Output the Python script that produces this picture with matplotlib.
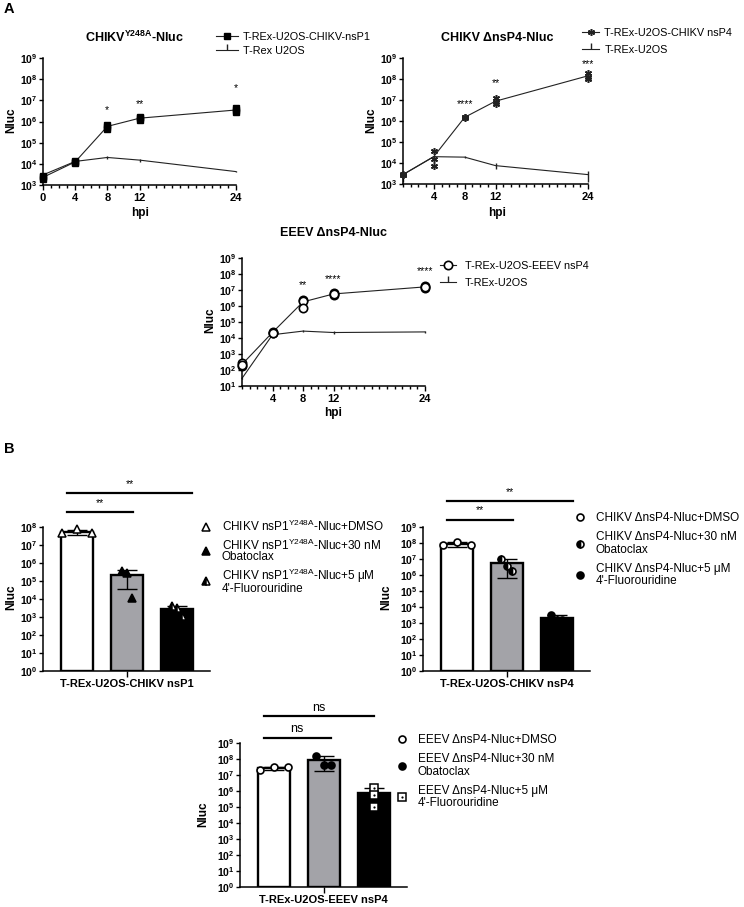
import numpy as np
import matplotlib.pyplot as plt
from matplotlib.lines import Line2D
from matplotlib.ticker import FuncFormatter, FixedLocator, MultipleLocator, NullLocator

plt.rcParams['font.family'] = ['Liberation Sans', 'DejaVu Sans']
plt.rcParams['mathtext.fontset'] = 'custom'
plt.rcParams['mathtext.rm'] = 'Liberation Sans'
plt.rcParams['mathtext.bf'] = 'Liberation Sans:bold'
plt.rcParams['mathtext.it'] = 'Liberation Sans:italic'
plt.rcParams['axes.linewidth'] = 1.1

W, H = 744, 907

# ---------------- panel A: time courses (Nluc vs hpi) ----------------
hpi = [0, 4, 8, 12, 24]

# CHIKV Y248A-Nluc, replicates per timepoint
y248a_nsp1 = [[2.0e3, 2.6e3, 2.3e3], [1.1e4, 1.4e4, 1.2e4], [4.6e5, 7.2e5, 5.8e5],
              [1.2e6, 1.7e6, 1.4e6], [2.7e6, 4.3e6, 3.5e6]]
y248a_ctrl = [3.0e3, 1.3e4, 2.0e4, 1.5e4, 4.3e3]
y248a_ctrl_sd = [3e2, 1.5e3, 3e3, 2.5e3, 3e2]
y248a_stars = ['', '', '*', '**', '*']
y248a_star_y = [1, 1, 3.5e6, 7e6, 3.9e7]

# CHIKV dnsP4-Nluc
cnsp4 = [[2.6e3, 3.0e3, 2.8e3], [3.8e4, 1.6e4, 7.0e3], [1.5e6, 1.6e6, 1.4e6],
         [1.2e7, 8.0e6, 6.3e6], [1.9e8, 1.3e8, 1.05e8]]
cnsp4_ctrl = [2.8e3, 2.0e4, 1.9e4, 7.5e3, 2.8e3]
cnsp4_ctrl_sd = [1.5e3, 1.5e3, 2.5e3, 2.5e3, 1.5e3]
cnsp4_stars = ['', '', '****', '**', '***']
cnsp4_star_y = [1, 1, 6.3e6, 6.3e7, 5.4e8]

# EEEV dnsP4-Nluc
ensp4 = [[2.8e2, 1.7e2, 2.2e2], [2.5e4, 2.0e4, 2.2e4], [2.5e6, 2.1e6, 8.0e5],
         [6.5e6, 5.0e6, 5.5e6], [1.8e7, 1.4e7, 1.5e7]]
ensp4_ctrl = [30, 1.6e4, 2.7e4, 2.2e4, 2.4e4]
ensp4_ctrl_sd = [3, 2.5e3, 4e3, 3.5e3, 3.5e3]
ensp4_stars = ['', '', '**', '****', '****']
ensp4_star_y = [1, 1, 2.0e7, 5.0e7, 1.6e8]

# ---------------- panel B: drug treatments (3 replicates each) ----------------
b1_vals = [[4.5e7, 7.5e7, 4.5e7], [3.5e5, 2.7e5, 1.2e4], [4.0e3, 3.3e3, 1.2e3]]
b2_vals = [[7.0e7, 1.2e8, 7.0e7], [1.07e7, 3.5e6, 1.8e6], [3.3e3, 1.6e3, 1.5e3]]
b3_vals = [[2.0e7, 3.1e7, 3.0e7], [1.56e8, 4.5e7, 4.5e7], [1.5e6, 6.0e5, 1.0e5]]

b1_labels = ['CHIKV nsP1$^{\\mathrm{Y248A}}$-Nluc+DMSO',
             'CHIKV nsP1$^{\\mathrm{Y248A}}$-Nluc+30 nM\nObatoclax',
             'CHIKV nsP1$^{\\mathrm{Y248A}}$-Nluc+5 μM\n4\'-Fluorouridine']
b2_labels = ['CHIKV ΔnsP4-Nluc+DMSO', 'CHIKV ΔnsP4-Nluc+30 nM\nObatoclax',
             'CHIKV ΔnsP4-Nluc+5 μM\n4\'-Fluorouridine']
b3_labels = ['EEEV ΔnsP4-Nluc+DMSO', 'EEEV ΔnsP4-Nluc+30 nM\nObatoclax',
             'EEEV ΔnsP4-Nluc+5 μM\n4\'-Fluorouridine']
b1_sig = ['**', '**']
b2_sig = ['**', '**']
b3_sig = ['ns', 'ns']

bar_colors = ['white', '#a3a3a8', 'black']

fig = plt.figure(figsize=(W / 100, H / 100), dpi=100)


def add_axes(l, t, r, b):
    return fig.add_axes([l / W, 1 - b / H, (r - l) / W, (b - t) / H])


def ftext(x, y, s, **kw):
    fig.text(x / W, 1 - y / H, s, ha='center', va='center', **kw)


def log_y(ax, lo, hi):
    ax.set_yscale('log')
    ax.set_ylim(lo, hi)
    ax.yaxis.set_major_locator(FixedLocator([10.0 ** k for k in range(int(np.log10(lo)), int(np.log10(hi)) + 1)]))
    ax.yaxis.set_minor_locator(NullLocator())
    ax.yaxis.set_major_formatter(FuncFormatter(lambda v, p: r'$\mathbf{10^{%d}}$' % round(np.log10(v))))
    for s in ['top', 'right']:
        ax.spines[s].set_visible(False)
    ax.tick_params(axis='y', length=3, width=1, labelsize=7.5, pad=1)


def time_panel(box, reps, ctrl, ctrl_sd, stars, star_y, ylim, xt, mk):
    ax = add_axes(*box)
    log_y(ax, *ylim)
    reps = np.array(reps)
    ax.plot(hpi, reps.mean(axis=1), color='#222222', lw=0.8, zorder=2, clip_on=False)
    for i, t in enumerate(hpi):
        ax.plot([t] * 3, reps[i], ls='none', clip_on=False, zorder=3, **mk)
    eb = ax.errorbar(hpi, ctrl, yerr=ctrl_sd, color='#222222', lw=0.8, elinewidth=1, capsize=0)
    for art in eb.get_children():
        art.set_clip_on(False)
    for t, s, y in zip(hpi, stars, star_y):
        if s:
            ax.text(t, y, s, ha='center', va='center', fontsize=7.5)
    ax.set_xlim(0, 24)
    ax.set_xticks(xt)
    ax.xaxis.set_minor_locator(MultipleLocator(1))
    ax.tick_params(axis='x', which='major', length=3.5, width=1, labelsize=8, pad=2)
    ax.tick_params(axis='x', which='minor', length=2, width=1)
    for lab in ax.get_xticklabels():
        lab.set_fontweight('bold')
    main_h = Line2D([], [], color='#222222', lw=0.8, **mk)
    ctrl_h = Line2D([], [], color='#222222', lw=0.8, marker=2, ms=4, mew=1)
    return ax, main_h, ctrl_h


def bar_panel(box, groups, ylim, mks, jit, xlabel, sig, sig_geo):
    ax = add_axes(*box)
    log_y(ax, *ylim)
    ax.set_xlim(-0.67, 2.67)
    for i, vals in enumerate(groups):
        m = np.mean(vals)
        sd = np.std(vals, ddof=1)
        ax.bar(i, m - ylim[0], bottom=ylim[0], width=0.64, color=bar_colors[i],
               edgecolor='k', lw=1.7, zorder=1)
        ax.errorbar(i, m, yerr=[[min(sd, m * 0.99)], [sd]], color='k', capsize=7,
                    elinewidth=1, capthick=1, zorder=2)
        for mk in mks[i]:
            ax.plot(np.array(jit[i]) + i, vals, ls='none', zorder=3, clip_on=False, **mk)
    ax.set_xticks([1])
    ax.set_xticklabels([xlabel], fontsize=8, fontweight='bold')
    ax.tick_params(axis='x', length=4, width=1, pad=2)
    tr = ax.get_xaxis_transform()
    for s, (x0, x1, yl, yt) in zip(sig, sig_geo):
        ax.plot([x0, x1], [yl, yl], color='k', lw=1.6, transform=tr, clip_on=False)
        ax.text((x0 + x1) / 2, yt, s, transform=tr, ha='center', va='center',
                fontsize=7.5 if s.startswith('*') else 9)
    return ax


# ---------- A ----------
mk1 = dict(marker='s', ms=5, mfc='k', mec='k')
mk2 = dict(marker=(6, 2, 0), ms=5, mec='#222222', mew=1.1)
mk3 = dict(marker='o', ms=6, mfc='white', mec='k', mew=1.2)

ax1, h1, e1 = time_panel((43, 58, 236, 185), y248a_nsp1, y248a_ctrl, y248a_ctrl_sd,
                         y248a_stars, y248a_star_y, (1e3, 1e9), [0, 4, 8, 12, 24], mk1)
ax2, h2, e2 = time_panel((403, 58, 588, 184), cnsp4, cnsp4_ctrl, cnsp4_ctrl_sd,
                         cnsp4_stars, cnsp4_star_y, (1e3, 1e9), [4, 8, 12, 24], mk2)
ax3, h3, e3 = time_panel((242, 258, 425, 386), ensp4, ensp4_ctrl, ensp4_ctrl_sd,
                         ensp4_stars, ensp4_star_y, (1e1, 1e9), [4, 8, 12, 24], mk3)

leg_kw = dict(loc='upper left', frameon=False, borderpad=0, borderaxespad=0, fontsize=7.8)
fig.legend([h1, e1], ['T-REx-U2OS-CHIKV-nsP1', 'T-Rex U2OS'], bbox_to_anchor=(216 / W, 1 - 32 / H),
           handlelength=2.0, handletextpad=0.45, labelspacing=0.35, **leg_kw)
fig.legend([h2, e2], ['T-REx-U2OS-CHIKV nsP4', 'T-REx-U2OS'], bbox_to_anchor=(582 / W, 1 - 28 / H),
           handlelength=1.6, handletextpad=0.45, labelspacing=0.65, **leg_kw)
fig.legend([h3, e3], ['T-REx-U2OS-EEEV nsP4', 'T-REx-U2OS'], bbox_to_anchor=(440 / W, 1 - 261 / H),
           handlelength=1.5, handletextpad=0.8, labelspacing=0.65, **leg_kw)

ftext(135, 37, 'CHIKV$^{\\mathbf{Y248A}}$-Nluc', fontsize=9, fontweight='bold')
ftext(497, 38, 'CHIKV ΔnsP4-Nluc', fontsize=9, fontweight='bold')
ftext(333, 233, 'EEEV ΔnsP4-Nluc', fontsize=9, fontweight='bold')
for x, y in [(140, 213), (497, 213), (333, 413)]:
    ftext(x, y, 'hpi', fontsize=8.5, fontweight='bold')
for x, y in [(11, 120), (371, 120), (210, 320), (11, 597), (386, 597), (203, 814)]:
    ftext(x, y, 'Nluc', fontsize=8.5, fontweight='bold', rotation=90)
ftext(9, 9, 'A', fontsize=10.5, fontweight='bold')
ftext(9, 449, 'B', fontsize=10.5, fontweight='bold')

# ---------- B ----------
m_tri_open = dict(marker='^', ms=5.5, mfc='white', mec='k', mew=1.1)
m_tri_fill = dict(marker='^', ms=5.5, mfc='k', mec='k', mew=1.1)
m_tri_half = dict(marker='^', ms=5.5, mfc='k', mfcalt='white', fillstyle='left', mec='k', mew=1.1)
m_c_open = dict(marker='o', ms=5, mfc='white', mec='k', mew=1.2)
m_c_half = dict(marker='o', ms=5, mfc='k', mfcalt='white', fillstyle='left', mec='k', mew=1.2)
m_c_fill = dict(marker='o', ms=5, mfc='k', mec='k', mew=1.2)
m_sq = dict(marker='s', ms=5.5, mfc='white', mec='k', mew=1.1)
m_dot = dict(marker='o', ms=1.6, mfc='k', mec='k', mew=0)

bar_panel((43, 527, 210, 671), b1_vals, (1e0, 1e8),
          [[m_tri_open], [m_tri_fill], [m_tri_half]],
          [[-0.29, 0, 0.3], [-0.1, 0, 0.1], [-0.1, 0, 0.1]],
          'T-REx-U2OS-CHIKV nsP1', b1_sig,
          [(-0.2, 2.32, 1.236, 1.30), (-0.2, 1.12, 1.104, 1.165)])
bar_panel((423, 527, 590, 671), b2_vals, (1e0, 1e9),
          [[m_c_open], [m_c_half], [m_c_fill]],
          [[-0.28, 0, 0.28], [-0.12, 0, 0.1], [-0.12, 0, 0.1]],
          'T-REx-U2OS-CHIKV nsP4', b2_sig,
          [(-0.2, 2.32, 1.18, 1.245), (-0.2, 1.12, 1.049, 1.115)])
bar_panel((240, 743, 407, 887), b3_vals, (1e0, 1e9),
          [[m_c_open], [m_c_fill], [m_sq, m_dot]],
          [[-0.28, 0, 0.28], [-0.16, 0, 0.14], [0, 0, 0]],
          'T-REx-U2OS-EEEV nsP4', b3_sig,
          [(-0.2, 2.0, 1.1875, 1.24), (-0.2, 1.14, 1.035, 1.095)])


def marker_handle(*mks):
    hs = tuple(Line2D([], [], ls='none', **m) for m in mks)
    return hs if len(hs) > 1 else hs[0]


bleg = dict(loc='upper left', frameon=False, borderpad=0, borderaxespad=0, fontsize=8.5,
            handlelength=1.0, handletextpad=0.85)
for hs, labs, (x, y), ls, lsp in [
        ([marker_handle(m_tri_open), marker_handle(m_tri_fill), marker_handle(m_tri_half)],
         b1_labels, (200, 519), 0.3, 0.8),
        ([marker_handle(m_c_open), marker_handle(m_c_half), marker_handle(m_c_fill)],
         b2_labels, (574, 512), 0.6, 1.05),
        ([marker_handle(m_c_open), marker_handle(m_c_fill), marker_handle(m_sq, m_dot)],
         b3_labels, (396, 734), 0.6, 1.05)]:
    lg = fig.legend(hs, labs, bbox_to_anchor=(x / W, 1 - y / H), labelspacing=ls, **bleg)
    for t in lg.get_texts():
        t.set_linespacing(lsp)

fig.savefig('out.png', dpi=100)
